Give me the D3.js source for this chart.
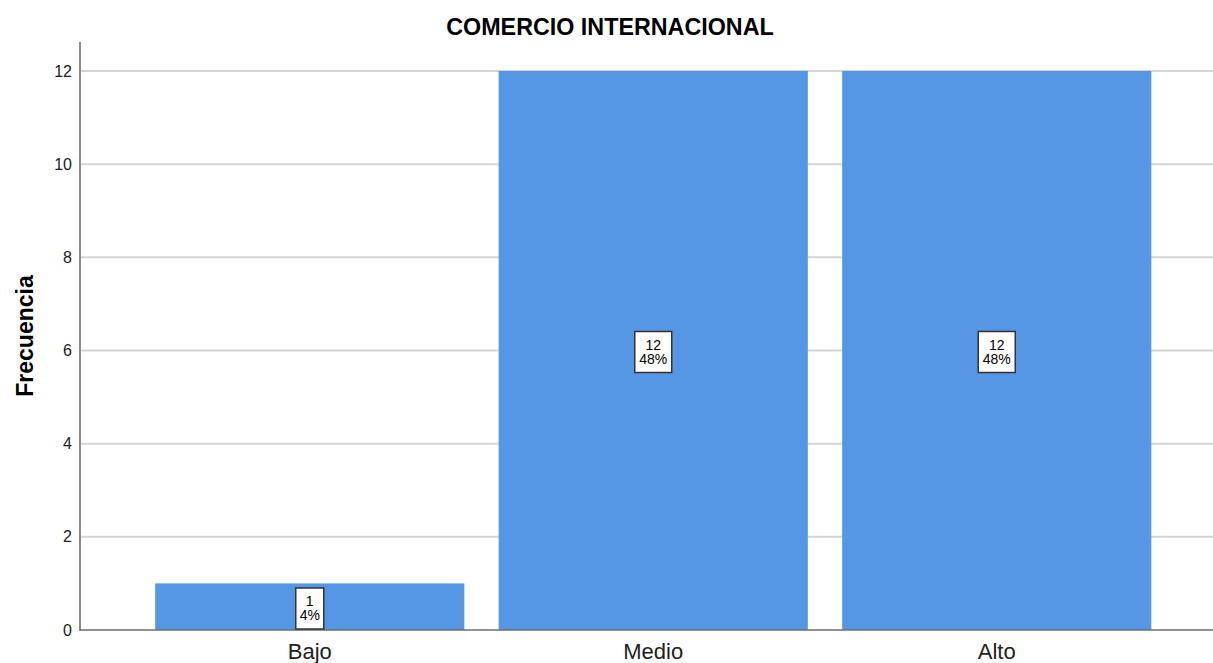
<!DOCTYPE html>
<html><head><meta charset="utf-8">
<script src="https://cdn.jsdelivr.net/npm/d3@7"></script>
<style>body{margin:0;background:#fff;}svg{display:block;font-family:Arial,"Liberation Sans",sans-serif;}</style>
</head><body>
<svg id="c" width="1213" height="663"></svg>
<script>
const categories = ["Bajo","Medio","Alto"];
const counts = [1,12,12];
const percents = ["4%","48%","48%"];
const yTicks = [0,2,4,6,8,10,12];

const svg = d3.select("#c");
const plotLeft = 80, plotRight = 1213, plotTop = 42, plotBottom = 630;
const x = d3.scaleBand().domain(categories).range([138, 1168.5]).paddingInner(0.1).paddingOuter(0.05);
const y = d3.scaleLinear().domain([0,12]).range([plotBottom, 71]);

svg.append("text").attr("x", 610).attr("y", 35).attr("text-anchor","middle")
  .attr("font-size", 23.3).attr("font-weight","bold").attr("fill","#000").text("COMERCIO INTERNACIONAL");

// gridlines
svg.append("g").selectAll("line").data(yTicks.filter(d=>d>0)).join("line")
  .attr("x1", plotLeft).attr("x2", plotRight).attr("y1", d=>y(d)).attr("y2", d=>y(d))
  .attr("stroke","#d4d4d4").attr("stroke-width",2);

// bars
svg.append("g").selectAll("rect").data(categories).join("rect")
  .attr("x", d=>x(d)).attr("width", x.bandwidth())
  .attr("y", (d,i)=>y(counts[i])).attr("height", (d,i)=>y(0)-y(counts[i]))
  .attr("fill","#5596e5");

// y axis
const yAxis = d3.axisLeft(y).tickValues(yTicks).tickSize(0).tickPadding(8);
const ga = svg.append("g").attr("transform",`translate(${plotLeft},0)`).call(yAxis);
ga.select(".domain").remove();
ga.selectAll("text").attr("font-size",16).attr("fill","#222").attr("font-family","Arial, 'Liberation Sans', sans-serif");
svg.append("line").attr("x1",plotLeft).attr("x2",plotLeft).attr("y1",plotTop).attr("y2",plotBottom+1)
  .attr("stroke","#8c8c8c").attr("stroke-width",2);

// x axis
const xAxis = d3.axisBottom(x).tickSize(0).tickPadding(13);
const gx = svg.append("g").attr("transform",`translate(0,${plotBottom})`).call(xAxis);
gx.select(".domain").remove();
gx.selectAll("text").attr("font-size",22).attr("fill","#222").attr("font-family","Arial, 'Liberation Sans', sans-serif");
svg.append("line").attr("x1",plotLeft).attr("x2",plotRight).attr("y1",plotBottom).attr("y2",plotBottom)
  .attr("stroke","#6e6e6e").attr("stroke-width",1.5);

// axis title
svg.append("text").attr("transform","translate(33,336) rotate(-90)").attr("text-anchor","middle")
  .attr("font-size",23).attr("font-weight","bold").attr("fill","#000").text("Frecuencia");

// labels
const lab = svg.append("g").selectAll("g").data(categories).join("g")
  .attr("transform",(d,i)=>`translate(${x(d)+x.bandwidth()/2},${i===0 ? 608 : y(counts[i]/2)+1})`);
lab.each(function(d,i){
  const g = d3.select(this);
  const w = percents[i].length*9 + 10;
  g.append("rect").attr("x",-w/2).attr("y", -20).attr("width", w).attr("height", 41)
    .attr("fill","#fff").attr("stroke","#333").attr("stroke-width",1.5);
  g.append("text").attr("text-anchor","middle").attr("y",-2).attr("font-size",14).attr("fill","#000").text(counts[i]);
  g.append("text").attr("text-anchor","middle").attr("y",12).attr("font-size",14).attr("fill","#000").text(percents[i]);
});
</script>
</body></html>
